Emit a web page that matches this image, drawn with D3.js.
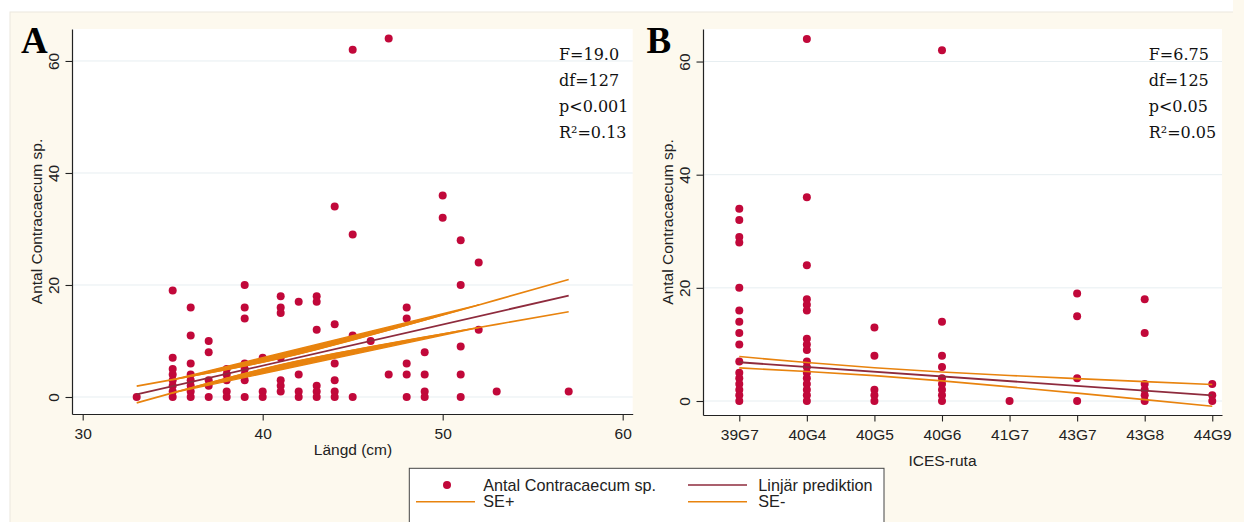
<!DOCTYPE html>
<html><head><meta charset="utf-8">
<script src="https://cdn.jsdelivr.net/npm/d3@7"></script>
<style>
html,body{margin:0;padding:0;background:#fff;}
svg{display:block;}
</style></head><body>
<svg id="chart" width="1244" height="522"></svg>
<script>
// ---------------- data ----------------
// Panel A: length (cm) and counts of Contracaecum sp. at that length
const lengthsA = [33, 35, 36, 37, 38, 39, 40, 41, 42, 43, 44, 45, 46, 47, 48, 49, 50, 51, 52, 53, 57];
const countsA = [
  [0],
  [19, 7, 5, 4, 3, 2, 1, 0],
  [16, 11, 6, 4, 3, 2, 1, 0],
  [10, 8, 3, 2, 0],
  [5, 4, 3, 1, 0],
  [20, 16, 14, 6, 5, 4, 3, 0],
  [7, 1, 0],
  [18, 16, 15, 7, 3, 2, 1],
  [17, 4, 1, 0],
  [18, 17, 12, 2, 1, 0],
  [34, 13, 6, 3, 1, 0],
  [62, 29, 11, 0],
  [10],
  [64, 4],
  [16, 14, 6, 4, 0],
  [8, 4, 1, 0],
  [36, 32],
  [28, 20, 9, 4, 0],
  [24, 12],
  [1],
  [1]
];
const xTicksA = [30, 40, 50, 60];
const yTicks = [0, 20, 40, 60];

// Panel B: ICES rectangles and counts
const areasB = ["39G7", "40G4", "40G5", "40G6", "41G7", "43G7", "43G8", "44G9"];
const countsB = [
  [34, 32, 29, 28, 20, 16, 14, 12, 10, 7, 5, 4, 3, 2, 1, 0],
  [64, 36, 24, 18, 17, 16, 11, 10, 9, 7, 6, 5, 4, 3, 2, 1, 0],
  [13, 8, 2, 1, 0],
  [62, 14, 8, 6, 4, 3, 2, 1, 0],
  [0],
  [19, 15, 4, 0],
  [18, 12, 3, 2, 1, 0],
  [3, 1, 0]
];

// Linear prediction (end points) and standard error of prediction
const fitXA = [33, 57];
const fitYA = [0.45, 18.1];
const seMinA = 0.59, seSpreadA = 0.0303, seMeanA = 40.9;
const bandRangeA = [35, 52];

const fitXB = [0, 7];
const fitYB = [6.85, 1.0];
const seMinB = 0.70, seSpreadB = 0.1286, seMeanB = 2.0;

const statsA = ["F=19.0", "df=127", "p<0.001", "R²=0.13"];
const statsB = ["F=6.75", "df=125", "p<0.05", "R²=0.05"];
const legendLabels = ["Antal Contracaecum sp.", "Linjär prediktion", "SE+", "SE-"];
const yTitle = "Antal Contracaecum sp.";

// ---------------- styles ----------------
const C_DOT = "#c1083a", C_PRED = "#8e2b3d", C_SE = "#e8830e";
const C_BG = "#fdf9ee", C_GRID = "#e7eef1", C_AXIS = "#222";
const SANS = "'Liberation Sans', Arial, sans-serif";
const SERIF = "'DejaVu Serif', serif";
const TITLE_SERIF = "'Liberation Serif', 'Times New Roman', serif";

const svg = d3.select("#chart");
svg.append("rect").attr("x", 0).attr("y", 0).attr("width", 1244).attr("height", 522).attr("fill", "#fff");
svg.append("rect").attr("x", 10).attr("y", 12).attr("width", 1240).attr("height", 520)
  .attr("fill", C_BG).attr("stroke", "#ece8de").attr("stroke-width", 1);
svg.append("rect").attr("x", 1233).attr("y", 0).attr("width", 11).attr("height", 13).attr("fill", C_BG);

function predAt(x, fx, fy) {
  return fy[0] + (fy[1] - fy[0]) * (x - fx[0]) / (fx[1] - fx[0]);
}
function seAt(x, mn, sp, m) {
  return Math.sqrt(mn * mn + sp * (x - m) * (x - m));
}

function drawPanel(o) {
  const g = svg.append("g");
  const x = o.x, y = o.y;
  const [x0, x1] = x.range(), [yb, yt] = y.range();
  g.append("rect").attr("x", x0).attr("y", yt).attr("width", x1 - x0).attr("height", yb - yt).attr("fill", "#fff");
  // grid
  g.selectAll(".grid").data(yTicks).join("line")
    .attr("x1", x0).attr("x2", x1).attr("y1", d => y(d)).attr("y2", d => y(d))
    .attr("stroke", C_GRID).attr("stroke-width", 1);

  // y axis
  const ya = g.append("g").attr("transform", `translate(${x0},0)`)
    .call(d3.axisLeft(y).tickValues(yTicks).tickSize(6.5).tickSizeOuter(0));
  ya.select(".domain").attr("stroke", C_AXIS).attr("stroke-width", 1.2);
  ya.selectAll(".tick line").attr("stroke", C_AXIS).attr("stroke-width", 1.1);
  ya.selectAll(".tick text").attr("transform", "rotate(-90)").attr("x", 0).attr("y", -13)
    .attr("dy", null).attr("text-anchor", "middle")
    .attr("font-family", SANS).attr("font-size", 15.5).attr("fill", C_AXIS);

  // x axis
  const xa = g.append("g").attr("transform", `translate(0,${yb})`)
    .call(d3.axisBottom(x).tickValues(o.xTickValues).tickFormat(o.xTickFormat).tickSize(6.5).tickSizeOuter(0));
  xa.select(".domain").attr("stroke", C_AXIS).attr("stroke-width", 1.2);
  xa.selectAll(".tick line").attr("stroke", C_AXIS).attr("stroke-width", 1.1);
  xa.selectAll(".tick text").attr("y", 25).attr("dy", null)
    .attr("font-family", SANS).attr("font-size", 15.5).attr("fill", C_AXIS);

  // titles
  g.append("text").attr("x", o.xTitlePos[0]).attr("y", o.xTitlePos[1]).attr("text-anchor", "middle")
    .attr("font-family", SANS).attr("font-size", 15.5).attr("fill", C_AXIS).text(o.xTitle);
  g.append("text").attr("transform", `translate(${o.yTitleX},${(yb + yt) / 2}) rotate(-90)`)
    .attr("text-anchor", "middle").attr("font-family", SANS).attr("font-size", 15.5).attr("fill", C_AXIS)
    .text(yTitle);
  g.append("text").attr("x", o.letterPos[0]).attr("y", o.letterPos[1])
    .attr("font-family", TITLE_SERIF).attr("font-weight", "bold").attr("font-size", 37).attr("fill", "#000")
    .text(o.letter);

  // points
  g.selectAll(".pt").data(o.points).join("circle")
    .attr("cx", d => x(d[0])).attr("cy", d => y(d[1])).attr("r", 4).attr("fill", C_DOT);

  // prediction line
  const line = d3.line().x(d => x(d[0])).y(d => y(d[1]));
  g.append("path").attr("d", line(o.fitX.map((v, i) => [v, o.fitY[i]])))
    .attr("fill", "none").attr("stroke", C_PRED).attr("stroke-width", 1.8);

  // SE curves
  [1, -1].forEach(sign => {
    const pts = o.seXs.map(v => [v, predAt(v, o.fitX, o.fitY) + sign * seAt(v, ...o.se)]);
    g.append("path").attr("d", line(pts)).attr("fill", "none")
      .attr("stroke", C_SE).attr("stroke-width", 1.6);
    if (o.band) {
      const bp = pts.filter(p => p[0] >= o.band[0] && p[0] <= o.band[1]);
      g.append("path").attr("d", line(bp) + "Z").attr("fill", C_SE)
        .attr("stroke", C_SE).attr("stroke-width", 1.3).attr("stroke-linejoin", "round");
    }
  });

  // stats
  g.selectAll(".st").data(o.stats).join("text")
    .attr("x", o.statsX).attr("y", (d, i) => 59.5 + i * 26)
    .attr("font-family", SERIF).attr("font-size", 16).attr("fill", "#111").text(d => d);
}

// Panel A
const xA = d3.scaleLinear().domain([29.406, 60.556]).range([72, 632.7]);
const yA = d3.scaleLinear().domain([-3.036, 65.71]).range([414, 29]);
const pointsA = lengthsA.flatMap((l, i) => countsA[i].map(c => [l, c]));
drawPanel({
  x: xA, y: yA, points: pointsA,
  xTickValues: xTicksA, xTickFormat: d3.format("d"),
  xTitle: "Längd (cm)", xTitlePos: [353, 455], yTitleX: 41.7,
  letter: "A", letterPos: [21, 52.7],
  fitX: fitXA, fitY: fitYA, se: [seMinA, seSpreadA, seMeanA],
  seXs: lengthsA, band: bandRangeA,
  stats: statsA, statsX: 559
});

// Panel B
const xB = d3.scaleLinear().domain([-0.537, 7.144]).range([703, 1222]);
const yB = d3.scaleLinear().domain([-2.474, 65.75]).range([415, 29]);
const pointsB = areasB.flatMap((a, i) => countsB[i].map(c => [i, c]));
drawPanel({
  x: xB, y: yB, points: pointsB,
  xTickValues: areasB.map((a, i) => i), xTickFormat: i => areasB[i],
  xTitle: "ICES-ruta", xTitlePos: [942.5, 465.5], yTitleX: 673.3,
  letter: "B", letterPos: [646.5, 53.3],
  fitX: fitXB, fitY: fitYB, se: [seMinB, seSpreadB, seMeanB],
  seXs: areasB.map((a, i) => i), band: null,
  stats: statsB, statsX: 1148.7
});

// Legend
const lg = svg.append("g");
lg.append("rect").attr("x", 409.3).attr("y", 468.3).attr("width", 474.7).attr("height", 70)
  .attr("fill", "#fff").attr("stroke", "#444").attr("stroke-width", 1);
const rows = [485, 501.7];
const legendDefs = [
  {type: "dot", col: 0, row: 0, color: C_DOT},
  {type: "line", col: 1, row: 0, color: C_PRED},
  {type: "line", col: 0, row: 1, color: C_SE},
  {type: "line", col: 1, row: 1, color: C_SE}
];
const colKeyX = [[416, 475], [688, 747]];
const colTextX = [483.3, 758.3];
legendDefs.forEach((d, i) => {
  const yy = rows[d.row];
  if (d.type === "dot") {
    lg.append("circle").attr("cx", (colKeyX[d.col][0] + colKeyX[d.col][1]) / 2 + 1.5).attr("cy", yy)
      .attr("r", 4).attr("fill", d.color);
  } else {
    lg.append("line").attr("x1", colKeyX[d.col][0]).attr("x2", colKeyX[d.col][1])
      .attr("y1", yy).attr("y2", yy).attr("stroke", d.color).attr("stroke-width", 1.4);
  }
  lg.append("text").attr("x", colTextX[d.col]).attr("y", yy + 5.6)
    .attr("font-family", SANS).attr("font-size", 16.2).attr("fill", C_AXIS).text(legendLabels[i]);
});
</script>
</body></html>
